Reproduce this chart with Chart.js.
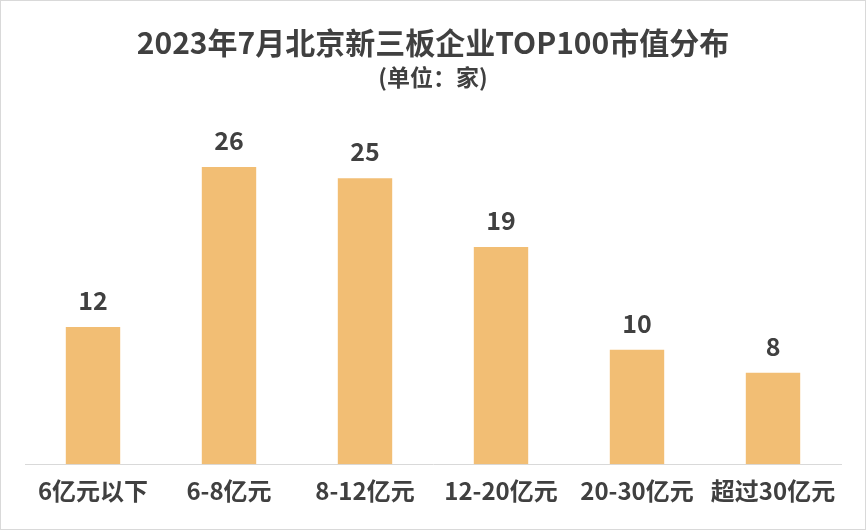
<!DOCTYPE html>
<html><head><meta charset="utf-8">
<script src="https://cdn.jsdelivr.net/npm/chart.js@4/dist/chart.umd.min.js"></script>
<style>html,body{margin:0;padding:0;background:#fff}#w{width:864px;height:528px;border:1px solid #d9d9d9;position:relative}</style>
</head><body><div id="w"><canvas id="c"></canvas></div>
<script>
const categories=["6亿元以下","6-8亿元","8-12亿元","12-20亿元","20-30亿元","超过30亿元"];
const values=[12,26,25,19,10,8];
const F='"Noto Sans CJK SC", sans-serif';
const labelPlugin={id:'lbl',afterDatasetsDraw(ch){const ctx=ch.ctx;const m=ch.getDatasetMeta(0);ctx.save();ctx.font='bold 25px '+F;ctx.fillStyle='#404040';ctx.textAlign='center';ctx.textBaseline='bottom';m.data.forEach((b,i)=>{ctx.fillText(values[i],b.x,b.y-14);});ctx.restore();}};
new Chart(document.getElementById('c'),{type:'bar',data:{labels:categories,datasets:[{data:values,backgroundColor:'#F2BE74',barPercentage:0.4,categoryPercentage:1}]},
options:{responsive:true,maintainAspectRatio:false,animation:false,
layout:{padding:{left:24,right:24,top:0,bottom:12}},
plugins:{legend:{display:false},tooltip:{enabled:false},
title:{display:true,text:'2023年7月北京新三板企业TOP100市值分布',color:'#404040',font:{size:30,weight:'bold',family:F},padding:{top:24,bottom:0}},
subtitle:{display:true,text:'(单位：家)',color:'#404040',font:{size:23,weight:'bold',family:F},padding:{top:2,bottom:10}}},
scales:{y:{display:false,min:0,max:31.8},x:{grid:{display:false,drawTicks:false},border:{color:'#d9d9d9'},ticks:{color:'#404040',padding:12,font:{size:24,weight:'bold',family:F}}}}},
plugins:[labelPlugin]});
</script></body></html>
